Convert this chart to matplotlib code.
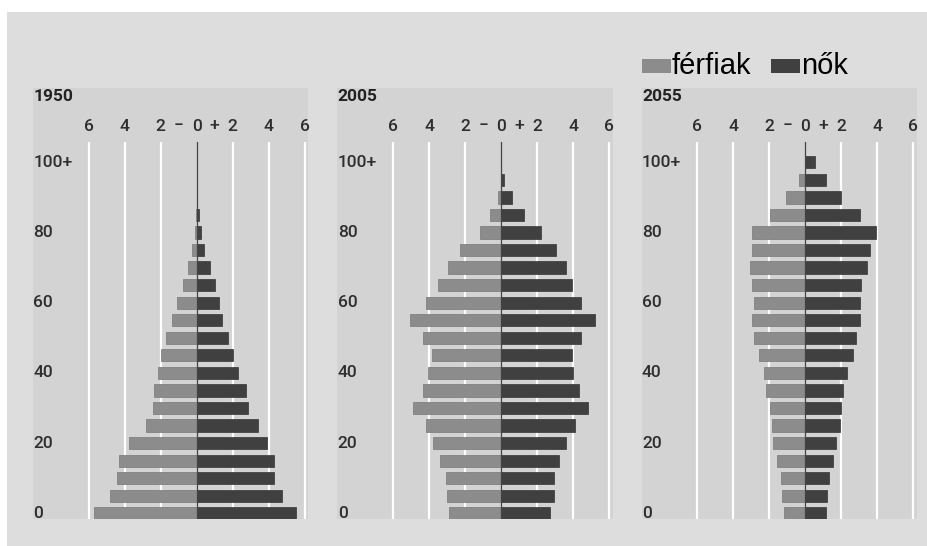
import matplotlib
matplotlib.use("Agg")
import matplotlib.pyplot as plt
from matplotlib.patches import Rectangle

# ---------------- data ----------------
years = ["1950", "2005", "2055"]
age_labels = ["0", "5", "10", "15", "20", "25", "30", "35", "40", "45", "50",
              "55", "60", "65", "70", "75", "80", "85", "90", "95", "100+"]
shown_age_labels = {0: "0", 4: "20", 8: "40", 12: "60", 16: "80", 20: "100+"}

men_1950 = [5.72, 4.80, 4.41, 4.30, 3.78, 2.80, 2.41, 2.39, 2.17, 1.98, 1.70,
            1.39, 1.09, 0.78, 0.50, 0.28, 0.09, 0.05, 0.0, 0.0, 0.0]
women_1950 = [5.52, 4.74, 4.31, 4.31, 3.91, 3.43, 2.83, 2.72, 2.31, 2.00, 1.74,
              1.41, 1.22, 1.00, 0.72, 0.41, 0.22, 0.13, 0.0, 0.0, 0.0]
men_2005 = [2.88, 2.99, 3.08, 3.39, 3.78, 4.17, 4.89, 4.37, 4.07, 3.85, 4.37,
            5.07, 4.17, 3.49, 2.97, 2.27, 1.18, 0.61, 0.20, 0.03, 0.0]
women_2005 = [2.71, 2.92, 2.92, 3.21, 3.62, 4.11, 4.81, 4.30, 4.00, 3.91, 4.41,
              5.20, 4.41, 3.91, 3.62, 3.03, 2.20, 1.27, 0.58, 0.13, 0.0]
men_2055 = [1.19, 1.28, 1.37, 1.57, 1.80, 1.87, 1.98, 2.17, 2.28, 2.59, 2.87,
            2.98, 2.87, 2.98, 3.07, 2.98, 2.98, 1.98, 1.09, 0.38, 0.04]
women_2055 = [1.13, 1.22, 1.31, 1.52, 1.72, 1.93, 2.00, 2.11, 2.31, 2.63, 2.83,
              3.02, 3.02, 3.11, 3.43, 3.61, 3.93, 3.02, 2.00, 1.12, 0.51]

tick_values = [-6, -4, -2, 0, 2, 4, 6]
tick_labels = ["6", "4", "2", "0", "2", "4", "6"]
legend_labels = ["férfiak", "nők"]

men_all = [men_1950, men_2005, men_2055]
women_all = [women_1950, women_2005, women_2055]

# ---------------- style ----------------
W, H = 928, 546
DPI = 100
outer_bg = "#dddddd"
panel_bg = "#d3d3d3"
men_color = "#8c8c8c"
women_color = "#404040"
text_color = "#2e2e2e"
tick_font = "Roboto"

fig = plt.figure(figsize=(W / DPI, H / DPI), dpi=DPI, facecolor="white")

# background axes in pixel coordinates
bg = fig.add_axes([0, 0, 1, 1])
bg.set_xlim(0, W)
bg.set_ylim(H, 0)
bg.axis("off")
bg.add_patch(Rectangle((7, 12), W - 7, H - 12, facecolor=outer_bg, edgecolor="none"))

# legend
bg.add_patch(Rectangle((641.7, 59), 29, 14.3, facecolor=men_color, edgecolor="none"))
bg.text(672, 66, legend_labels[0], fontsize=21, family="Liberation Sans",
        color="#000000", ha="left", va="center")
bg.add_patch(Rectangle((770.7, 59), 29, 14.3, facecolor=women_color, edgecolor="none"))
bg.text(801, 66, legend_labels[1], fontsize=21, family="Liberation Sans",
        color="#000000", ha="left", va="center")

# panel geometry (pixels)
centers = [196.7, 501.2, 805.4]
px_per_unit = 18.0
px_per_row = 17.55
row0_y = 513.3
xlo, xhi = -9.1, 6.2
ylo, yhi = -0.33, 24.23
grid_top = 21.17

for k in range(3):
    left_px = centers[k] + xlo * px_per_unit
    width_px = (xhi - xlo) * px_per_unit
    top_px = row0_y - yhi * px_per_row
    bottom_px = row0_y - ylo * px_per_row
    ax = fig.add_axes([left_px / W, 1 - bottom_px / H, width_px / W,
                       (bottom_px - top_px) / H])
    ax.set_facecolor(panel_bg)
    ax.set_xlim(xlo, xhi)
    ax.set_ylim(ylo, yhi)
    for s in ax.spines.values():
        s.set_visible(False)
    ax.set_xticks([])
    ax.set_yticks([])

    # white grid lines
    for tv in tick_values:
        if tv != 0:
            ax.plot([tv, tv], [ylo, grid_top], color="white", lw=1.6,
                    solid_capstyle="butt", zorder=1)

    ypos = list(range(len(age_labels)))
    men = men_all[k]
    women = women_all[k]
    ax.barh(ypos, [-m for m in men], height=0.7, color=men_color,
            edgecolor="#777777", linewidth=0.5, zorder=2)
    ax.barh(ypos, women, height=0.7, color=women_color,
            edgecolor="#333333", linewidth=0.5, zorder=2)

    # center line
    ax.plot([0, 0], [ylo, grid_top], color="#444444", lw=0.9, zorder=3)

    # top tick labels
    for tv, tl in zip(tick_values, tick_labels):
        ax.text(tv, 22.03, tl, ha="center", va="center", fontsize=12.5,
                family=tick_font, fontweight="medium", color=text_color)
    ax.text(-1, 22.1, "−", ha="center", va="center", fontsize=12.5,
            family=tick_font, fontweight="medium", color=text_color)
    ax.text(1, 22.1, "+", ha="center", va="center", fontsize=12.5,
            family=tick_font, fontweight="medium", color=text_color)

    # age labels
    for idx, lab in shown_age_labels.items():
        ax.text(xlo + 0.02, idx, lab, ha="left", va="center", fontsize=12.5,
                family=tick_font, fontweight="medium", color=text_color)

    # year title
    ax.text(xlo + 0.02, 23.74, years[k], ha="left", va="center", fontsize=12.5,
            family=tick_font, fontweight="bold", color="#222222")

fig.savefig("out.png", dpi=DPI, facecolor="white")
